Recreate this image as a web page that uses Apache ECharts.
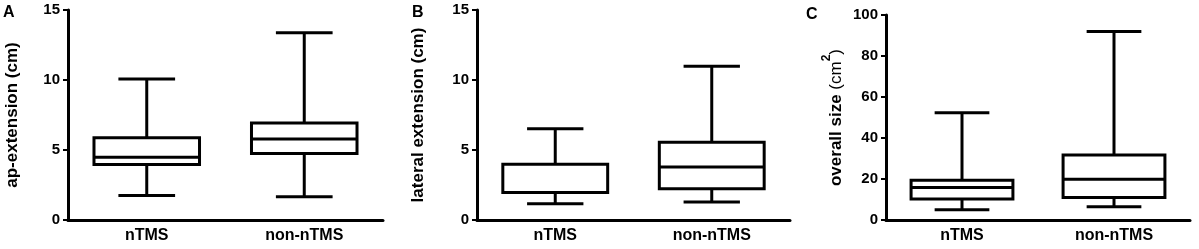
<!DOCTYPE html>
<html>
<head>
<meta charset="utf-8">
<script src="https://cdn.jsdelivr.net/npm/echarts@6/dist/echarts.min.js"></script>
<style>
    html, body { margin: 0; padding: 0; background: #fff; }
    #chart { width: 1199px; height: 249px; }
</style>
</head>
<body>
<div id="chart"></div>
<script>
// groups on the x axis
const categories = ['nTMS', 'non-nTMS'];

// [min, q1, median, q3, max] per group
const apExtension = [
    [1.75, 3.97, 4.49, 5.87, 10.08],
    [1.66, 4.75, 5.78, 6.92, 13.38]
];
const lateralExtension = [
    [1.16, 1.97, 1.97, 3.99, 6.51],
    [1.28, 2.23, 3.78, 5.56, 10.98]
];
const overallSize = [
    [5.0, 10.2, 15.9, 19.4, 52.3],
    [6.5, 11.0, 19.9, 31.7, 91.9]
];

const panelLetters = ['A', 'B', 'C'];
const yNames = [
    'ap-extension (cm)',
    'lateral extension (cm)',
    '{a|overall size }{b|(cm}{s|2}{b|)}'
];
const yMax = [15, 15, 100];
const yInterval = [5, 5, 20];

const font = 'Liberation Sans, Arial, Helvetica, sans-serif';

// box + whiskers drawn with the axes' own scales
function renderBox(params, api) {
    const x = api.value(0);
    const pts = [1, 2, 3, 4, 5].map(i => api.coord([x, api.value(i)]));
    const band = api.size([1, 0])[0];
    const bw = band * 0.67 / 2;
    const cw = band * 0.36 / 2;
    const cx = pts[0][0];
    const style = { stroke: '#000', lineWidth: 3, fill: null };
    const line = (x1, y1, x2, y2) => ({
        type: 'line',
        shape: { x1, y1, x2, y2 },
        style
    });
    return {
        type: 'group',
        children: [
            line(cx, pts[3][1], cx, pts[4][1]),
            line(cx, pts[1][1], cx, pts[0][1]),
            line(cx - cw, pts[4][1], cx + cw, pts[4][1]),
            line(cx - cw, pts[0][1], cx + cw, pts[0][1]),
            {
                type: 'rect',
                shape: { x: cx - bw, y: pts[3][1], width: bw * 2, height: pts[1][1] - pts[3][1] },
                style: { stroke: '#000', lineWidth: 3, fill: '#fff' }
            },
            line(cx - bw, pts[2][1], cx + bw, pts[2][1])
        ]
    };
}

const grids = [
    { left: 68, width: 315, top: 10, height: 210 },
    { left: 477, width: 313, top: 10, height: 210 },
    { left: 886, width: 304, top: 15, height: 205 }
];
const nameGaps = [47, 50, 41];
const letterPos = [[3, 5], [412, 5], [806, 7]];
const allData = [apExtension, lateralExtension, overallSize];

const chart = echarts.init(document.getElementById('chart'), null, { renderer: 'canvas' });

const option = {
    animation: false,
    backgroundColor: '#fff',
    title: panelLetters.map((t, i) => ({
        text: t,
        left: letterPos[i][0],
        top: letterPos[i][1],
        padding: 0,
        textStyle: { fontFamily: font, fontSize: 16, fontWeight: 'bold', color: '#000' }
    })),
    grid: grids,
    xAxis: grids.map((g, i) => ({
        type: 'category',
        gridIndex: i,
        data: categories,
        boundaryGap: true,
        axisLine: { lineStyle: { color: '#000', width: 3 } },
        axisTick: { alignWithLabel: true, length: 5, lineStyle: { color: '#000', width: 3 } },
        axisLabel: {
            margin: 8,
            fontFamily: font,
            fontSize: 16,
            fontWeight: 'bold',
            color: '#000'
        },
        splitLine: { show: false }
    })),
    yAxis: grids.map((g, i) => ({
        type: 'value',
        gridIndex: i,
        min: 0,
        max: yMax[i],
        interval: yInterval[i],
        name: yNames[i],
        nameLocation: 'middle',
        nameGap: nameGaps[i],
        nameTextStyle: {
            fontFamily: font,
            fontSize: 17,
            fontWeight: 'bold',
            color: '#000',
            rich: {
                a: { fontFamily: font, fontSize: 17, fontWeight: 'bold', color: '#000', lineHeight: 24, verticalAlign: 'bottom' },
                b: { fontFamily: font, fontSize: 17, fontWeight: 'normal', color: '#000', lineHeight: 24, verticalAlign: 'bottom' },
                s: { fontFamily: font, fontSize: 12, color: '#000', verticalAlign: 'top' }
            }
        },
        axisLine: { show: true, lineStyle: { color: '#000', width: 3 } },
        axisTick: { show: true, length: 5, lineStyle: { color: '#000', width: 2 } },
        axisLabel: {
            margin: 8,
            fontFamily: font,
            fontSize: 15,
            fontWeight: 'bold',
            color: '#000'
        },
        splitLine: { show: false }
    })),
    series: allData.map((d, i) => ({
        type: 'custom',
        xAxisIndex: i,
        yAxisIndex: i,
        renderItem: renderBox,
        encode: { x: 0, y: [1, 2, 3, 4, 5] },
        data: d.map((v, k) => [k].concat(v))
    }))
};

chart.setOption(option);
</script>
</body>
</html>
